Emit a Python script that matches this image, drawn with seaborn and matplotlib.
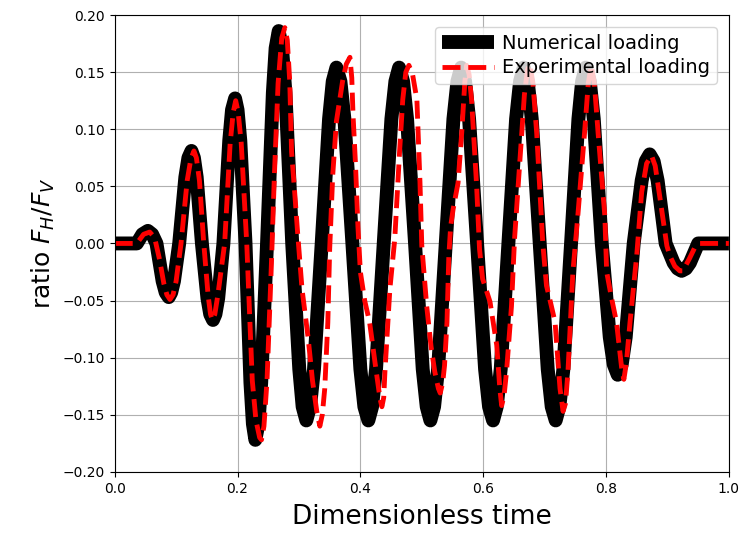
import matplotlib
matplotlib.use("Agg")
import matplotlib.pyplot as plt
import seaborn as sns

# Numerical loading
num_t = [0.0, 0.036, 0.045, 0.054, 0.061, 0.068,
         0.078, 0.083, 0.088, 0.092, 0.0965, 0.105,
         0.115, 0.120, 0.125, 0.129, 0.1335, 0.142,
         0.151, 0.1555, 0.160, 0.164, 0.1685, 0.177,
         0.1865, 0.191, 0.196, 0.200, 0.2045, 0.213,
         0.221, 0.225, 0.229, 0.234, 0.2385, 0.248,
         0.2575, 0.262, 0.267, 0.2725, 0.278, 0.289,
         0.3005, 0.306, 0.312, 0.318, 0.3245, 0.337,
         0.349, 0.355, 0.361, 0.3675, 0.374, 0.387,
         0.400, 0.4065, 0.413, 0.419, 0.4255, 0.438,
         0.4505, 0.457, 0.463, 0.4695, 0.476, 0.489,
         0.5015, 0.508, 0.514, 0.520, 0.5265, 0.539,
         0.5515, 0.558, 0.564, 0.5705, 0.577, 0.590,
         0.603, 0.6095, 0.616, 0.622, 0.6285, 0.641,
         0.6535, 0.660, 0.666, 0.6725, 0.679, 0.692,
         0.705, 0.7115, 0.718, 0.724, 0.7305, 0.743,
         0.755, 0.761, 0.767, 0.7735, 0.780, 0.793,
         0.806, 0.8125, 0.819, 0.8255, 0.832, 0.845,
         0.858, 0.8645, 0.871, 0.8775, 0.884, 0.897,
         0.910, 0.9165, 0.923, 0.930, 0.9365, 0.950, 1.0]
num_ratio = [0.0, 0.0, 0.008, 0.011, 0.008, 0.0,
             -0.033, -0.043, -0.047, -0.043, -0.033, 0.0,
             0.058, 0.075, 0.081, 0.075, 0.058, 0.0,
             -0.048, -0.062, -0.067, -0.062, -0.048, 0.0,
             0.090, 0.117, 0.127, 0.117, 0.090, 0.0,
             -0.122, -0.158, -0.172, -0.158, -0.122, 0.0,
             0.132, 0.171, 0.186, 0.171, 0.132, 0.0,
             -0.110, -0.143, -0.155, -0.143, -0.110, 0.0,
             0.109, 0.142, 0.154, 0.142, 0.109, 0.0,
             -0.110, -0.143, -0.155, -0.143, -0.110, 0.0,
             0.109, 0.142, 0.154, 0.142, 0.109, 0.0,
             -0.110, -0.143, -0.155, -0.143, -0.110, 0.0,
             0.109, 0.142, 0.154, 0.142, 0.109, 0.0,
             -0.110, -0.143, -0.155, -0.143, -0.110, 0.0,
             0.109, 0.142, 0.154, 0.142, 0.109, 0.0,
             -0.110, -0.143, -0.155, -0.143, -0.110, 0.0,
             0.109, 0.142, 0.154, 0.142, 0.109, 0.0,
             -0.082, -0.106, -0.115, -0.106, -0.082, 0.0,
             0.055, 0.072, 0.078, 0.072, 0.055, 0.0,
             -0.017, -0.022, -0.024, -0.022, -0.017, 0.0, 0.0]

# Experimental loading
exp_t = [0.0, 0.036, 0.047, 0.057, 0.065, 0.073, 0.080, 0.085, 0.090, 0.095,
         0.100, 0.108, 0.118, 0.124, 0.129, 0.133, 0.138, 0.145, 0.152, 0.156,
         0.159, 0.163, 0.168, 0.179, 0.188, 0.193, 0.197, 0.201, 0.206, 0.215,
         0.224, 0.230, 0.236, 0.239, 0.243, 0.248, 0.255, 0.260, 0.266, 0.272,
         0.277, 0.281, 0.285, 0.288, 0.293, 0.298, 0.305, 0.315, 0.322, 0.329,
         0.334, 0.338, 0.342, 0.347, 0.350, 0.355, 0.361, 0.371, 0.377, 0.383,
         0.386, 0.388, 0.392, 0.396, 0.400, 0.407, 0.415, 0.424, 0.432, 0.435,
         0.438, 0.440, 0.448, 0.456, 0.464, 0.469, 0.474, 0.479, 0.485, 0.492,
         0.497, 0.500, 0.508, 0.515, 0.521, 0.527, 0.530, 0.534, 0.537, 0.541,
         0.544, 0.547, 0.551, 0.559, 0.565, 0.570, 0.573, 0.577, 0.581, 0.589,
         0.594, 0.599, 0.611, 0.622, 0.627, 0.630, 0.634, 0.638, 0.646, 0.651,
         0.660, 0.667, 0.672, 0.676, 0.681, 0.687, 0.697, 0.703, 0.708, 0.717,
         0.725, 0.730, 0.734, 0.738, 0.746, 0.754, 0.765, 0.771, 0.776, 0.781,
         0.787, 0.798, 0.801, 0.809, 0.817, 0.826, 0.829, 0.833, 0.839, 0.850,
         0.858, 0.866, 0.874, 0.880, 0.888, 0.899, 0.904, 0.912, 0.920, 0.925,
         0.936, 0.945, 0.953, 1.0]
exp_ratio = [0.0, 0.0, 0.008, 0.010, 0.005, -0.014, -0.035, -0.045, -0.049, -0.045,
             -0.033, 0.0, 0.055, 0.074, 0.081, 0.075, 0.055, 0.0, -0.045, -0.062,
             -0.067, -0.062, -0.045, 0.0, 0.088, 0.115, 0.125, 0.115, 0.088, 0.0,
             -0.120, -0.155, -0.170, -0.172, -0.160, -0.120, -0.020, 0.060, 0.140, 0.180,
             0.189, 0.178, 0.142, 0.080, 0.045, 0.008, -0.040, -0.083, -0.120, -0.147,
             -0.160, -0.150, -0.127, -0.069, -0.005, 0.060, 0.107, 0.142, 0.157, 0.163,
             0.145, 0.113, 0.070, 0.015, -0.025, -0.050, -0.069, -0.105, -0.136, -0.143,
             -0.135, -0.112, -0.040, 0.004, 0.082, 0.126, 0.150, 0.156, 0.148, 0.126,
             0.054, -0.002, -0.055, -0.090, -0.112, -0.127, -0.131, -0.122, -0.107, -0.069,
             -0.011, 0.015, 0.030, 0.053, 0.097, 0.141, 0.156, 0.148, 0.126, 0.053,
             -0.005, -0.031, -0.051, -0.089, -0.127, -0.142, -0.133, -0.112, -0.055, 0.004,
             0.075, 0.130, 0.152, 0.157, 0.140, 0.097, 0.0, -0.037, -0.048, -0.069,
             -0.127, -0.147, -0.140, -0.112, -0.025, 0.024, 0.097, 0.140, 0.156, 0.140,
             0.097, 0.024, -0.025, -0.048, -0.069, -0.112, -0.119, -0.105, -0.069, -0.010,
             0.045, 0.070, 0.077, 0.068, 0.039, -0.002, -0.011, -0.020, -0.024, -0.024,
             -0.013, -0.003, 0.0, 0.0]

x_ticks = [0.0, 0.2, 0.4, 0.6, 0.8, 1.0]
y_ticks = [-0.20, -0.15, -0.10, -0.05, 0.00, 0.05, 0.10, 0.15, 0.20]

sns.set_style("ticks", rc={'text.color': 'black', 'axes.labelcolor': 'black',
                           'xtick.color': 'black', 'ytick.color': 'black',
                           'axes.edgecolor': 'black'})
plt.rcParams['font.family'] = ['DejaVu Sans']

fig, ax = plt.subplots(figsize=(7.4, 5.38), dpi=100)
fig.subplots_adjust(left=0.155, right=0.985, top=0.972, bottom=0.123)

sns.lineplot(x=num_t, y=num_ratio, color='black', linewidth=10,
             solid_capstyle='butt', sort=False, estimator=None,
             label='Numerical loading', ax=ax)
sns.lineplot(x=exp_t, y=exp_ratio, color='red', linewidth=3.5, linestyle='--',
             dash_capstyle='butt', sort=False, estimator=None,
             label='Experimental loading', ax=ax)

ax.set_xlim(0, 1)
ax.set_ylim(-0.2, 0.2)
ax.set_xticks(x_ticks)
ax.set_yticks(y_ticks)
ax.tick_params(labelsize=10, direction='out', length=3.5, width=0.8)
for s in ax.spines.values():
    s.set_linewidth(0.8)
ax.grid(True, color='#b0b0b0', linewidth=0.8)

ax.set_xlabel('Dimensionless time', fontsize=19, labelpad=6)
ax.set_ylabel('ratio $F_H/F_V$', fontsize=18)
ax.legend(loc='upper right', fontsize=14, handlelength=2.65,
          handletextpad=0.45, borderpad=0.35, labelspacing=0.3,
          borderaxespad=0.6)

fig.savefig('out.png', dpi=100)
